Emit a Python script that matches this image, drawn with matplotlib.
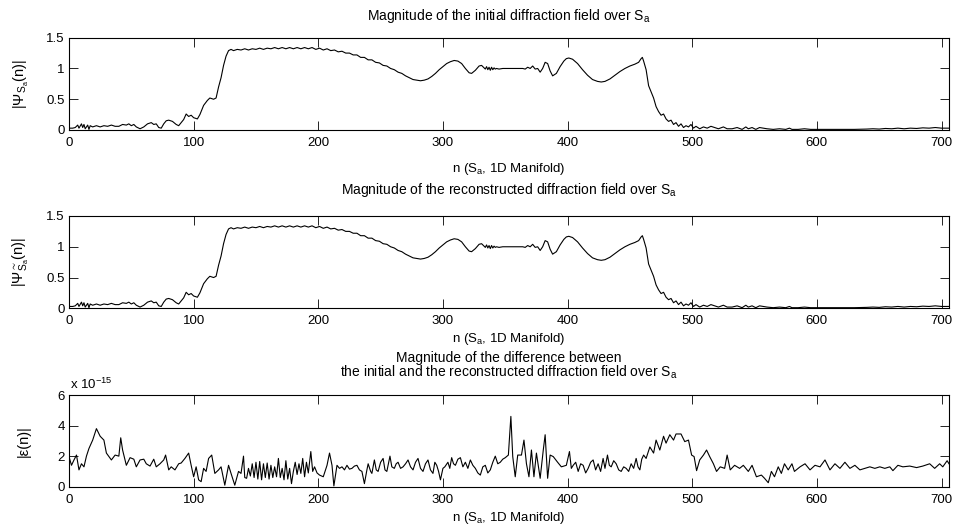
import matplotlib
matplotlib.use("Agg")
import matplotlib.pyplot as plt
from matplotlib.ticker import FixedLocator, FixedFormatter

plt.rcParams['font.family'] = ['Liberation Sans', 'DejaVu Sans']
plt.rcParams['mathtext.fontset'] = 'custom'
plt.rcParams['mathtext.rm'] = 'Liberation Sans'
plt.rcParams['mathtext.it'] = 'Liberation Sans:italic'
plt.rcParams['mathtext.sf'] = 'Liberation Sans'
plt.rcParams['mathtext.default'] = 'regular'

# ---------------- data ----------------
psi_n = [0, 3, 5, 7, 8, 10, 11, 12, 13, 15, 16, 17, 19, 22, 25, 28, 31, 34, 37, 40,
         43, 46, 48, 50, 52, 54, 57, 60, 63, 66, 68, 70, 72, 74, 76, 78, 80, 83, 86, 88,
         90, 92, 94, 96, 98, 100, 103, 105, 108, 111, 113, 116, 118, 120, 122, 124, 126, 128,
         130, 132, 135, 138, 141, 144, 147, 150, 153, 156, 159, 162, 165, 168, 171, 174, 177,
         180, 183, 186, 189, 192, 195, 198, 201, 204, 207, 210, 213, 216, 219, 222, 225, 228,
         231, 234, 237, 240, 243, 246, 249, 252, 255, 258, 261, 264, 267, 270, 273, 276, 279,
         282, 285, 288, 291, 294, 297, 300, 303, 306, 309, 312, 315, 318, 321, 323, 326, 329,
         331, 333, 334, 335, 336, 337, 338, 339, 340, 341, 342, 343, 345, 348, 352, 356, 360,
         364, 366, 368, 370, 372, 374, 376, 378, 380, 382, 384, 386, 388, 391, 394, 397, 399,
         401, 404, 408, 412, 416, 420, 424, 427, 430, 434, 438, 442, 446, 450, 454, 457, 459,
         460, 461, 463, 465, 467, 469, 471, 473, 475, 477, 479, 481, 483, 485, 487, 489, 491,
         493, 495, 497, 499, 501, 503, 506, 509, 512, 515, 518, 521, 525, 528, 532, 536, 540,
         543, 545, 548, 551, 554, 557, 560, 565, 570, 575, 578, 580, 585, 590, 595, 600, 610,
         620, 630, 640, 645, 650, 655, 660, 665, 670, 675, 680, 685, 690, 695, 700, 706]
psi_v = [0.03, 0.03, 0.04, 0.08, 0.03, 0.10, 0.04, 0.09, 0.02, 0.08, 0.01, 0.07, 0.05, 0.07,
         0.05, 0.07, 0.06, 0.08, 0.06, 0.06, 0.09, 0.08, 0.10, 0.07, 0.09, 0.05, 0.02, 0.05,
         0.10, 0.12, 0.09, 0.10, 0.04, 0.03, 0.10, 0.15, 0.16, 0.14, 0.09, 0.07, 0.12, 0.17,
         0.26, 0.22, 0.24, 0.20, 0.18, 0.25, 0.40, 0.48, 0.52, 0.50, 0.52, 0.70, 0.85, 1.05,
         1.20, 1.29,
         1.31, 1.29, 1.31, 1.30, 1.32, 1.30, 1.32, 1.31, 1.33, 1.31, 1.33, 1.32, 1.34, 1.32,
         1.34, 1.32, 1.34, 1.32, 1.34, 1.32, 1.34, 1.32, 1.34, 1.31, 1.33, 1.30, 1.32, 1.29,
         1.30, 1.27, 1.28, 1.25, 1.25, 1.22, 1.22, 1.18, 1.18, 1.14, 1.14, 1.10, 1.09, 1.05,
         1.04, 1.00, 0.98, 0.94, 0.92, 0.88, 0.85, 0.82, 0.81, 0.80, 0.81, 0.83, 0.87, 0.92,
         0.98, 1.03, 1.08, 1.11, 1.13, 1.12, 1.08, 1.00, 0.93, 0.92, 0.97, 1.04, 1.05, 1.01,
         0.99, 1.03, 0.98, 1.02, 0.97, 1.02, 0.98, 1.01, 0.99, 1.00, 0.99, 1.00, 1.00, 1.00,
         1.00, 1.00, 0.99, 1.02, 1.00, 1.04, 0.99, 1.00, 0.94, 1.00, 1.10, 1.08, 0.96, 0.88,
         0.92, 1.03, 1.12, 1.16, 1.17, 1.15, 1.08, 0.98, 0.89, 0.82, 0.79, 0.78, 0.79, 0.83,
         0.89, 0.95, 1.00, 1.04, 1.07, 1.10, 1.16, 1.18, 1.12, 0.98, 0.72, 0.62, 0.52, 0.38,
         0.30, 0.24, 0.26, 0.18, 0.14, 0.16, 0.09, 0.12, 0.06, 0.10, 0.04, 0.07, 0.05, 0.09,
         0.03, 0.06, 0.02, 0.05, 0.03, 0.06, 0.04, 0.02, 0.05, 0.02, 0.02, 0.04, 0.01, 0.05,
         0.02, 0.04, 0.01, 0.04, 0.03, 0.02, 0.01, 0.02, 0.01, 0.03, 0.01, 0.01, 0.02, 0.01,
         0.01, 0.01, 0.01, 0.01, 0.015, 0.02, 0.015, 0.025, 0.02, 0.03, 0.02, 0.03, 0.025,
         0.035, 0.03, 0.04, 0.03, 0.03]
# reconstructed field: identical to the initial one at plot resolution
psi_rec_v = list(psi_v)

# (n, |eps(n)| in units of 1e-15)
err_points = [
    (0, 1.97), (2, 1.4), (4, 1.75), (6, 2.07), (8, 1.1), (10, 1.5), (12, 1.3), (14, 2.0),
    (16, 2.5), (19, 3.05), (22, 3.8), (25, 3.3), (28, 3.05), (30, 2.2), (32, 1.97),
    (34, 1.75), (37, 2.07), (40, 2.0), (41.5, 3.2), (43, 2.4), (46, 1.4), (49, 1.9),
    (52, 1.8), (54, 1.3), (57, 1.75), (60, 1.8), (62, 1.5), (65, 1.35), (68, 1.8), (70, 1.3),
    (73, 1.5), (76, 1.75), (77.5, 2.07), (80, 1.1), (82, 1.3), (85, 1.1), (88, 1.5),
    (90, 1.55), (93, 1.85), (96, 2.2), (98, 1.4), (100, 0.65), (102, 1.3), (104, 0.45),
    (106, 0.33), (108, 1.2), (110, 1.0), (112, 1.85), (114.5, 2.07), (117, 0.87), (120, 1.1),
    (122, 1.3), (125, 0.1), (128, 1.4), (130, 0.87), (133, 0.1), (136, 1.0),
    (138, 0.87), (140, 2.0), (141, 0.6), (142.5, 0.55), (144, 1.2), (145.5, 0.7), (147, 1.5),
    (148.5, 0.6), (150, 1.6), (151.5, 0.5), (153, 1.65), (154.5, 0.45), (156, 1.5),
    (157.5, 0.6), (159, 1.55), (160.5, 0.5), (162, 1.4), (163.5, 0.6), (165, 1.3),
    (166.5, 0.65), (168, 1.85), (169.5, 0.6), (171, 1.2), (172.5, 0.45), (174, 1.7),
    (175.5, 0.5), (177, 1.2), (178.5, 0.2), (180, 1.0), (181.5, 1.6), (183, 0.8), (184.5, 1.5),
    (186, 0.87), (187.5, 1.85), (189, 0.65), (190.5, 1.6), (192, 0.9), (194, 2.3), (195.5, 1.0),
    (197, 1.3), (199, 0.9), (201, 0.76),
    (204, 0.65), (207, 1.4), (209, 2.2), (211, 1.4), (212.5, 0.05),
    (215, 1.4), (217, 1.2), (219, 1.3), (221, 1.1), (223, 1.4), (225, 1.15), (227, 1.2),
    (229, 1.35), (231, 1.4), (233, 1.1), (235, 1.0), (237, 0.2), (239, 1.1), (240, 1.5),
    (242, 1.0), (243, 0.87), (245, 1.75), (246.5, 1.1), (248, 1.0), (250, 1.6), (252, 1.85),
    (253.5, 1.1), (255, 1.0), (257.5, 2.0), (259, 1.3), (261, 1.2), (262.5, 1.5), (264, 1.6),
    (266, 1.2), (268, 1.3), (270, 1.5), (272, 1.75), (274, 1.3), (276, 1.1), (278, 1.6),
    (280, 1.85), (282, 1.2), (284, 1.0), (286, 1.5), (288, 1.75), (290, 1.1), (292, 0.87),
    (293.5, 1.6), (295, 1.4), (296.5, 1.0), (298, 0.45), (300, 1.2), (301.5, 1.3),
    (304, 1.6), (305.5, 1.2), (307, 1.9), (308.5, 1.5), (310, 1.4), (312, 1.8), (314, 1.9),
    (316, 1.3), (318, 1.6), (320, 1.2), (322, 1.75), (324, 1.4), (326, 1.2), (328, 0.9),
    (330, 0.76), (332, 1.3), (334, 1.4), (336, 0.9), (338, 1.1), (340, 1.6), (342, 2.0),
    (344, 1.5), (346, 1.6), (348, 1.8), (350, 1.9), (352.5, 2.07), (354.5, 4.6), (356, 1.97),
    (358, 0.65), (360, 2.07), (363, 2.07), (365, 3.05), (367, 1.5), (369, 0.65), (371, 2.4),
    (373, 0.65), (375, 2.2), (378, 0.55), (380.5, 2.4), (382, 3.4), (384, 0.55), (386, 2.07),
    (388.5, 1.97), (392, 1.6), (395, 1.3), (399, 1.4),
    (401.5, 2.3), (403, 1.2), (404.5, 1.4), (406.5, 1.6), (408.5, 1.0), (410.5, 1.5),
    (412.5, 1.4), (414.5, 0.9), (416.5, 1.2), (418.5, 1.6), (420.5, 1.75), (422.5, 1.1),
    (424.5, 1.5), (426.5, 1.0), (428.5, 1.85), (430, 1.2), (432, 2.07), (433.5, 1.4),
    (435, 1.3), (437, 1.7), (439, 1.5), (441, 1.1), (443, 1.0), (445, 1.3), (447, 1.2),
    (449, 1.0), (451, 1.5), (453, 1.2), (455, 1.85), (456.5, 1.3), (458, 1.1), (459.5, 1.8),
    (461, 2.07), (463, 1.85), (466, 2.6), (469, 2.2), (471, 3.05), (474, 2.4), (477, 3.3),
    (479, 2.85), (482, 3.4), (485, 3.05), (487, 3.45), (491, 3.45), (494, 2.95), (497, 3.05),
    (499.5, 2.07), (501.5, 1.97), (503.5, 1.05), (506, 1.75), (509, 2.07), (511.5, 2.4),
    (514, 1.97), (517, 1.5), (519.5, 1.0), (522.5, 1.3), (526, 1.2), (528, 2.07),
    (530.5, 1.1), (534, 1.4), (538, 1.2), (541, 1.4), (545, 1.0), (548, 1.4), (551.5, 0.65),
    (555.5, 0.76), (558, 0.55), (561, 0.26), (563.5, 1.0), (566, 0.65), (569, 1.3),
    (571.5, 0.87), (574, 1.5), (577, 1.1), (580, 1.5), (582, 1.0), (586.5, 1.3), (590.5, 1.5),
    (594.5, 1.1), (598.5, 1.4), (602.5, 1.3), (606.5, 1.75), (610.5, 1.1), (614.5, 1.5),
    (618.5, 1.2), (622.5, 1.6), (626.5, 1.2), (630.5, 1.4), (634.5, 1.1), (638.5, 1.2),
    (642.5, 1.3), (646.5, 1.2), (650.5, 1.3), (654.5, 1.2), (658.5, 1.3), (661, 1.05),
    (665, 1.4), (669, 1.3), (674.5, 1.35), (680, 1.25), (685, 1.35), (690.5, 1.5),
    (694.5, 1.2), (698.5, 1.5), (701, 1.3), (704.5, 1.7), (706, 1.5)]
err_n = [p[0] for p in err_points]
err_e15 = [p[1] for p in err_points]

x_ticks = [0, 100, 200, 300, 400, 500, 600, 700]
x_ticklabels = ['0', '100', '200', '300', '400', '500', '600', '700']
psi_yticks = [0, 0.5, 1, 1.5]
psi_yticklabels = ['0', '0.5', '1', '1.5']
err_yticks = [0, 2, 4, 6]
err_yticklabels = ['0', '2', '4', '6']

titles = ['Magnitude of the initial diffraction field over S$_a$',
          'Magnitude of the reconstructed diffraction field over S$_a$',
          'Magnitude of the difference between',
          'the initial and the reconstructed diffraction field over S$_a$']
xlabel = 'n (S$_a$, 1D Manifold)'
ylabels = [r'$|\Psi_{S_a}(n)|$', r'$|\Psi^{\sim}_{S_a}(n)|$', '|ε(n)|']

# ---------------- figure ----------------
W, H = 958, 532
fig = plt.figure(figsize=(W / 100, H / 100), dpi=100)

def frac_box(left, top, right, bottom):
    return [left / W, 1 - bottom / H, (right - left) / W, (bottom - top) / H]

boxes = [frac_box(69, 37.7, 949, 130),
         frac_box(69, 216, 949, 308.3),
         frac_box(69, 395, 949, 486.7)]

FS_TICK = 9.5
FS_LABEL = 9.5
FS_TITLE = 10
FS_YLABEL = 10.5

axes = [fig.add_axes(b) for b in boxes]
series = [(psi_n, psi_v), (psi_n, psi_rec_v), (err_n, err_e15)]
ylims = [(0, 1.5), (0, 1.5), (0, 6)]
yticks = [(psi_yticks, psi_yticklabels), (psi_yticks, psi_yticklabels),
          (err_yticks, err_yticklabels)]

for ax, (xs, ys), yl, (yt, ytl), ylab in zip(axes, series, ylims, yticks, ylabels):
    ax.plot(xs, ys, color='black', lw=0.8)
    ax.set_xlim(0, 706)
    ax.set_ylim(*yl)
    ax.xaxis.set_major_locator(FixedLocator(x_ticks))
    ax.xaxis.set_major_formatter(FixedFormatter(x_ticklabels))
    ax.yaxis.set_major_locator(FixedLocator(yt))
    ax.yaxis.set_major_formatter(FixedFormatter(ytl))
    ax.tick_params(direction='in', length=6.5, width=0.6, top=True, right=True,
                   labelsize=FS_TICK, colors='black')
    ax.tick_params(axis='x', pad=5)
    ax.tick_params(axis='y', pad=3)
    for s in ax.spines.values():
        s.set_linewidth(0.8)
        s.set_color('black')
    ax.set_ylabel(ylab, fontsize=FS_YLABEL)
    ax.yaxis.set_label_coords(-0.043, 0.5)

cx = 509 / W
fig.text(cx, 1 - 20 / H, titles[0], ha='center', va='baseline', fontsize=FS_TITLE)
fig.text(cx, 1 - 194 / H, titles[1], ha='center', va='baseline', fontsize=FS_TITLE)
fig.text(cx, 1 - 362.3 / H, titles[2], ha='center', va='baseline', fontsize=FS_TITLE)
fig.text(cx, 1 - 376.7 / H, titles[3], ha='center', va='baseline', fontsize=FS_TITLE)
for yb in [171.7, 341.7, 520.5]:
    fig.text(cx, 1 - yb / H, xlabel, ha='center', va='baseline', fontsize=FS_LABEL)

fig.text(70 / W, 1 - 389.3 / H, r'x 10$^{-15}$', ha='left', va='baseline', fontsize=FS_TICK)

fig.savefig('out.png', dpi=100)
